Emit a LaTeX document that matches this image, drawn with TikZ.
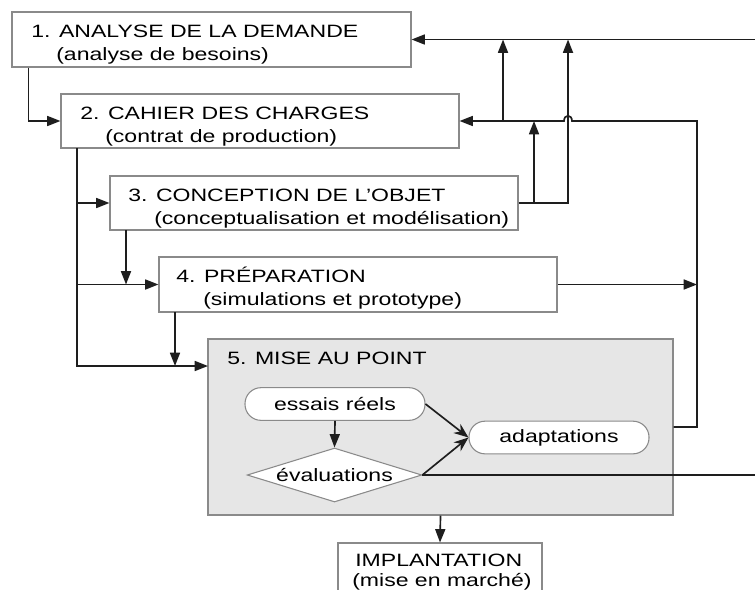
\documentclass[tikz,border=0pt]{standalone}
\usepackage{fontspec}
\setmainfont{Liberation Sans}[FakeStretch=1.29]
\usetikzlibrary{arrows.meta,shapes.geometric,fit,calc}
\definecolor{linec}{HTML}{1E1E1E}
\definecolor{boxc}{HTML}{8A8A8A}
\definecolor{fillc}{HTML}{E6E6E6}
\begin{document}
\begin{tikzpicture}[x=0.75pt,y=-0.75pt,
  every node/.style={font=\fontsize{13.4}{16}\selectfont},
  box/.style={draw=boxc,line width=0.8pt,inner sep=0pt,fill=white},
  txt/.style={anchor=base west,inner sep=0pt},
  conn/.style={draw=linec,line width=1.25pt},
  arr/.style={conn,-{Triangle[length=10pt,width=7.5pt]}},
  sarr/.style={conn,-{Stealth[length=11pt,width=8.5pt]}},
  pill/.style={draw=boxc,line width=0.8pt,fill=white,rounded corners=12pt,minimum width=135pt,minimum height=24.5pt,inner sep=0pt}]
\clip (0,0) rectangle (755,589);
\fill[white] (0,0) rectangle (755,589);
% boxes
\node[box,fit={(12,12) (411,67)}] (b1) {};
\node[box,fit={(61,94) (459,148)}] (b2) {};
\node[box,fit={(110,176) (518,230)}] (b3) {};
\node[box,fit={(159,257) (557,312)}] (b4) {};
\node[box,fill=fillc,fit={(208,339) (673,515)}] (b5) {};
\node[box,fit={(338,543) (542,620)}] (b6) {};
% texts
\node[txt] (t1a) at (31,37.7) {1. ANALYSE DE LA DEMANDE};
\node[txt] (t1b) at (56,60.5) {(analyse de besoins)};
\node[txt] (t2a) at (80,119.7) {2. CAHIER DES CHARGES};
\node[txt] (t2b) at (105,142.5) {(contrat de production)};
\node[txt] (t3a) at (128,201.7) {3. CONCEPTION DE L’OBJET};
\node[txt] (t3b) at (154,224.5) {(conceptualisation et modélisation)};
\node[txt] (t4a) at (176,282.7) {4. PRÉPARATION};
\node[txt] (t4b) at (203,305.5) {(simulations et prototype)};
\node[txt] (t5) at (227,364) {5. MISE AU POINT};
\node[txt] (t6a) at (355,566) {IMPLANTATION};
\node[txt] (t6b) at (352,586) {(mise en marché)};
% inner nodes
\node[pill] (es) at (335,404) {essais réels};
\node[pill] (ad) at (559,437.5) {adaptations};
\node[draw=boxc,line width=0.8pt,fill=white,diamond,minimum width=131pt,minimum height=40.5pt,inner sep=0pt] (ev) at (334.5,475) {\makebox[0pt][c]{évaluations}};
% coordinates
\coordinate (topR) at (760,39.5);
\coordinate (cR) at (697,121);
\coordinate (eR) at (760,475);
\coordinate (L) at (77,148);
\coordinate (b5in) at (208,366);
\coordinate (d3) at (126,230);
\coordinate (d4) at (175,312);
% connectors
\draw[arr] ($(b1.south west)+(17,0)$) |- (b2.west);
\draw[arr] (topR) -- (b1.east);
\draw[arr] (b5.east) -| (cR) -- (572,121) .. controls (572,114) and (564,114) .. (564,121) -- (b2.east);
\draw[arr] (503,121) -- (503,39.5);
\draw[arr] (b3.east) -| (568,39.5);
\draw[arr] (534,203) -- (534,121);
\draw[arr] (b4.east) -- (b4.east -| cR);
\draw[arr] (L) |- (b5in);
\draw[arr] (L |- b3.west) -- (b3.west);
\draw[arr] (L |- b4.west) -- (b4.west);
\draw[arr] (d3) -- (d3 |- b4.west);
\draw[arr] (d4) -- (d4 |- b5in);
\draw[arr] (es.south) -- (ev.north);
\draw[sarr] (es.east) -- (ad.west);
\draw[sarr] (ev.east) -- (ad.west);
\draw[conn] (ev.east) -- (eR);
\draw[arr] (b5.south) -- (b6.north);
\end{tikzpicture}
\end{document}
